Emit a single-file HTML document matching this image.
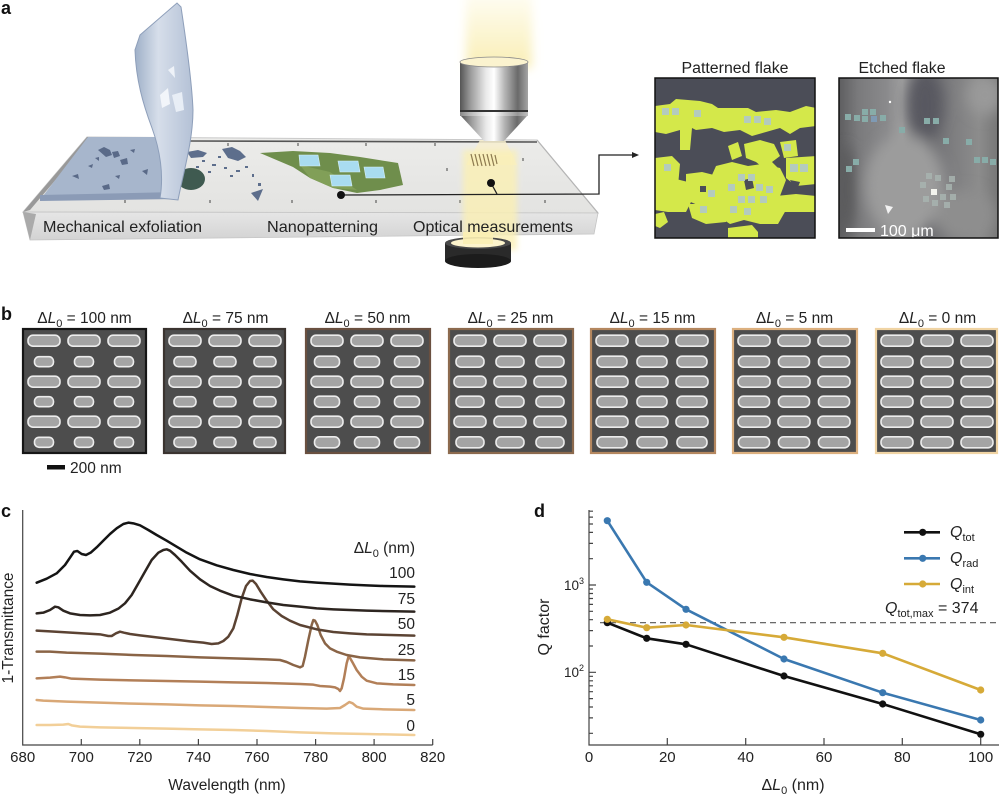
<!DOCTYPE html>
<html><head><meta charset="utf-8"><style>
html,body{margin:0;padding:0;background:#fff;}
svg{display:block;font-family:"Liberation Sans",Arial,sans-serif;}
.pill rect{fill:#a4a4a4;stroke:#ececec;stroke-width:1.6;}
</style></head><body>
<svg width="1000" height="795" viewBox="0 0 1000 795" xmlns="http://www.w3.org/2000/svg">
<defs>
<filter id="b3" x="-50%" y="-50%" width="200%" height="200%"><feGaussianBlur stdDeviation="3"/></filter>
<filter id="b5" x="-50%" y="-50%" width="200%" height="200%"><feGaussianBlur stdDeviation="5"/></filter>
<filter id="b8" x="-30%" y="-30%" width="160%" height="160%"><feGaussianBlur stdDeviation="7"/></filter>
<linearGradient id="chrome" x1="0" y1="0" x2="1" y2="0">
<stop offset="0" stop-color="#555"/><stop offset="0.15" stop-color="#999"/><stop offset="0.38" stop-color="#e9e9e9"/><stop offset="0.5" stop-color="#fff"/><stop offset="0.65" stop-color="#b8b8b8"/><stop offset="0.85" stop-color="#6a6a6a"/><stop offset="1" stop-color="#a5a5a5"/>
</linearGradient>
<linearGradient id="beam" x1="0" y1="0" x2="0" y2="1"><stop offset="0" stop-color="#fffef6"/><stop offset="1" stop-color="#f9eeb5"/></linearGradient>
<linearGradient id="top" x1="0" y1="0" x2="0" y2="1"><stop offset="0" stop-color="#ececea"/><stop offset="1" stop-color="#e3e3e1"/></linearGradient>
<linearGradient id="front" x1="0" y1="0" x2="0" y2="1"><stop offset="0" stop-color="#e6e6e6"/><stop offset="1" stop-color="#d3d3d3"/></linearGradient>
<linearGradient id="sheet" x1="0" y1="0" x2="1" y2="0"><stop offset="0" stop-color="#9fb0c8"/><stop offset="0.4" stop-color="#d6deea"/><stop offset="1" stop-color="#b4c1d6"/></linearGradient>
<linearGradient id="etch" x1="0" y1="0" x2="1" y2="0">
<stop offset="0" stop-color="#5e5e60"/><stop offset="0.12" stop-color="#7a7a7c"/><stop offset="0.3" stop-color="#8a8a8c"/><stop offset="0.4" stop-color="#a0a0a0"/><stop offset="0.55" stop-color="#6a6a6e"/><stop offset="0.72" stop-color="#7e7e80"/><stop offset="0.88" stop-color="#8c8c8c"/><stop offset="1" stop-color="#777"/>
</linearGradient>
<clipPath id="ce"><rect x="839" y="78" width="159" height="160"/></clipPath>
<clipPath id="cp"><rect x="655" y="78" width="160" height="160"/></clipPath>
<g id="rL" class="pill"><rect x="5" y="-5.5" width="32" height="11" rx="5"/><rect x="45" y="-5.5" width="32" height="11" rx="5"/><rect x="85" y="-5.5" width="32" height="11" rx="5"/></g>
<g id="r19" class="pill"><rect x="11.5" y="-5" width="19" height="10" rx="4.5"/><rect x="51.5" y="-5" width="19" height="10" rx="4.5"/><rect x="91.5" y="-5" width="19" height="10" rx="4.5"/></g>
<g id="r22" class="pill"><rect x="10" y="-5" width="22" height="10" rx="4.5"/><rect x="50" y="-5" width="22" height="10" rx="4.5"/><rect x="90" y="-5" width="22" height="10" rx="4.5"/></g>
<g id="r25" class="pill"><rect x="8.5" y="-5.5" width="25" height="11" rx="5"/><rect x="48.5" y="-5.5" width="25" height="11" rx="5"/><rect x="88.5" y="-5.5" width="25" height="11" rx="5"/></g>
<g id="r28" class="pill"><rect x="7" y="-5.5" width="28" height="11" rx="5"/><rect x="47" y="-5.5" width="28" height="11" rx="5"/><rect x="87" y="-5.5" width="28" height="11" rx="5"/></g>
<g id="r30" class="pill"><rect x="6" y="-5.5" width="30" height="11" rx="5"/><rect x="46" y="-5.5" width="30" height="11" rx="5"/><rect x="86" y="-5.5" width="30" height="11" rx="5"/></g>
<g id="r31" class="pill"><rect x="5.5" y="-5.5" width="31" height="11" rx="5"/><rect x="45.5" y="-5.5" width="31" height="11" rx="5"/><rect x="85.5" y="-5.5" width="31" height="11" rx="5"/></g>
</defs>

<!-- ================= PANEL A ================= -->
<text x="1" y="14" font-size="18" font-weight="bold" fill="#111">a</text>

<rect x="466" y="-10" width="66" height="78" fill="url(#beam)" filter="url(#b5)"/>

<polygon points="87,137 537,140 598,213 23,212" fill="url(#top)" stroke="#c9c9c9" stroke-width="1"/>
<line x1="190" y1="141" x2="537" y2="142" stroke="#555" stroke-width="1.6"/>
<polygon points="87,137 92,137 30,210 23,212" fill="#999"/>
<polygon points="23,212 598,213 594,234 30,240" fill="url(#front)" stroke="#c4c4c4" stroke-width="0.8"/>
<polygon points="23,212 30,240 36,214" fill="#aaa"/>
<line x1="537" y1="140" x2="598" y2="213" stroke="#b5b5b5" stroke-width="1.2"/>

<g stroke="#444" stroke-width="1">
<line x1="228" y1="143" x2="228" y2="146"/><line x1="298" y1="143" x2="298" y2="146"/><line x1="366" y1="143" x2="366" y2="146"/><line x1="435" y1="143" x2="435" y2="146"/>
<line x1="447" y1="168" x2="447" y2="171"/><line x1="523" y1="158" x2="523" y2="161"/>
<line x1="125" y1="200" x2="125" y2="203"/><line x1="210" y1="200" x2="210" y2="203"/><line x1="292" y1="200" x2="292" y2="203"/><line x1="376" y1="200" x2="376" y2="203"/><line x1="460" y1="200" x2="460" y2="203"/><line x1="545" y1="200" x2="545" y2="203"/>
</g>

<g fill="#5d6e8c">
<polygon points="187,152 198,150 207,153 203,157 191,158"/>
<polygon points="222,149 232,147 240,151 246,157 238,161 228,158"/>
<polygon points="251,193 263,189 258,201"/>
<rect x="202" y="160" width="3" height="2"/><rect x="212" y="164" width="4" height="2"/><rect x="224" y="167" width="3" height="2"/><rect x="236" y="170" width="4" height="2"/><rect x="245" y="166" width="3" height="2"/><rect x="196" y="166" width="3" height="2"/><rect x="230" y="175" width="3" height="2"/><rect x="252" y="174" width="2" height="3"/><rect x="258" y="183" width="3" height="3"/><rect x="218" y="156" width="3" height="2"/><rect x="208" y="171" width="3" height="2"/>
</g>

<ellipse cx="191" cy="179" rx="14" ry="11" fill="#3f5a50"/>

<polygon points="88,137 163,137 177,197 40,200" fill="#a7b6cc"/>
<polygon points="40,195 177,192 177,199 40,201" fill="#8b9bb6"/>
<g fill="#5a6a88">
<polygon points="98,150 104,147 110,150 112,155 106,157"/><polygon points="112,152 118,151 120,156 114,158"/><polygon points="120,160 127,158 128,164 122,165"/><polygon points="72,176 78,174 79,179"/><polygon points="102,186 109,184 110,189 104,190"/><polygon points="142,171 148,169 147,175"/><polygon points="130,150 135,149 134,153"/><polygon points="88,166 93,164 92,168"/><polygon points="115,176 120,175 119,179"/><polygon points="95,158 99,157 99,161"/>
</g>

<path d="M140,35 L177,3 L181,7 C186,40 192,85 193,110 C193,140 184,170 178,200 L160,198 C164,175 160,150 152,128 C143,104 136,80 135,50 Z" fill="url(#sheet)" stroke="#8e9fba" stroke-width="1"/>
<polygon points="160,95 168,88 170,104 162,108" fill="#f2f5fa"/>
<polygon points="168,70 174,66 175,78" fill="#eef2f8"/>
<polygon points="172,95 182,92 184,110 176,112" fill="#e8eef6"/>

<polygon points="260,153 293,151 330,153 360,157 398,163 403,185 380,190 357,193 333,188 310,178 293,167" fill="#6f8e4c"/>
<polygon points="300,165 330,172 357,190 333,188 310,178" fill="#819f58"/>
<g fill="#a9dcf0" stroke="#d8f0fa" stroke-width="0.6">
<polygon points="299,155 318,155 320,166 300,166"/>
<polygon points="338,161 358,161 360,172 340,172"/>
<polygon points="364,167 383,167 385,178 366,178"/>
<polygon points="330,175 350,175 352,186 332,186"/>
</g>

<polygon points="480,140 505,140 517,165 466,165" fill="#f7efcf" opacity="0.85"/>
<rect x="463" y="150" width="54" height="100" fill="#fbf0b4" opacity="0.8" filter="url(#b3)"/>
<g stroke="#8d7a50" stroke-width="1.2">
<line x1="471" y1="154" x2="474" y2="166"/><line x1="475" y1="154" x2="478" y2="166"/><line x1="479" y1="154" x2="482" y2="166"/><line x1="483" y1="154" x2="486" y2="166"/><line x1="487" y1="154" x2="490" y2="166"/><line x1="491" y1="154" x2="494" y2="166"/><line x1="495" y1="155" x2="497" y2="164"/>
</g>

<rect x="460" y="62" width="68" height="48" fill="url(#chrome)"/>
<rect x="460" y="108" width="68" height="8" fill="url(#chrome)" opacity="0.7"/>
<rect x="460" y="110" width="68" height="2" fill="#333"/>
<ellipse cx="494" cy="62" rx="34" ry="5" fill="#fbf3cf" stroke="#888" stroke-width="0.8"/>
<polygon points="461,116 527,116 504,141 484,141" fill="url(#chrome)"/>

<rect x="445" y="243" width="66" height="18" fill="#2a2a2a"/>
<ellipse cx="478" cy="261" rx="33" ry="7" fill="#1c1c1c"/>
<ellipse cx="478" cy="243" rx="33" ry="6" fill="#4a4a4a"/>
<ellipse cx="478" cy="243" rx="27" ry="4.5" fill="#fdf4cc"/>
<rect x="463" y="232" width="30" height="12" fill="#fbf0b4" opacity="0.9"/>

<g font-size="16" fill="#222">
<text x="43" y="232" textLength="159" lengthAdjust="spacingAndGlyphs">Mechanical exfoliation</text>
<text x="267" y="232" textLength="111" lengthAdjust="spacingAndGlyphs">Nanopatterning</text>
<text x="413" y="232" textLength="160" lengthAdjust="spacingAndGlyphs">Optical measurements</text>
</g>

<g stroke="#222" stroke-width="1.3" fill="none">
<path d="M341,195 L599,194 L599,155 L634,155"/>
<path d="M491,183 L497,194"/>
</g>
<polygon points="639,155 632,152 632,158" fill="#222"/>
<circle cx="341" cy="195" r="4" fill="#111"/>
<circle cx="491" cy="183" r="4" fill="#111"/>

<g font-size="15.5" fill="#222" text-anchor="middle">
<text x="735" y="73" textLength="107" lengthAdjust="spacingAndGlyphs">Patterned flake</text>
<text x="902" y="73" textLength="87" lengthAdjust="spacingAndGlyphs">Etched flake</text>
</g>

<!-- patterned flake -->
<rect x="655" y="78" width="160" height="160" fill="#4b4d57"/>
<g clip-path="url(#cp)">
<g fill="#d4e84a">
<polygon points="655,106 670,104 676,99 700,101 712,104 718,108 748,108 756,112 776,110 790,112 806,106 816,108 816,126 800,128 790,134 780,128 766,132 752,136 740,130 724,132 712,128 696,130 692,128 690,150 680,150 680,130 666,134 655,132"/>
<polygon points="655,158 672,156 680,164 678,186 668,192 655,190"/>
<polygon points="728,146 738,142 742,156 732,160"/>
<polygon points="744,144 760,140 774,144 780,156 772,162 778,168 766,170 756,162 746,158"/>
<polygon points="780,142 796,140 798,156 784,158"/>
<polygon points="716,166 732,162 748,166 762,164 780,168 786,180 780,196 786,210 778,224 760,224 744,220 730,224 718,216 712,198 708,184"/>
<polygon points="686,174 702,172 718,176 722,196 716,206 700,206 686,200"/>
<polygon points="655,180 672,178 688,182 692,200 686,212 668,212 655,210"/>
<polygon points="786,158 816,156 816,184 796,186 786,178"/>
<polygon points="776,196 796,194 816,196 816,212 796,212 776,212"/>
<polygon points="728,228 752,225 758,232 758,240 728,240"/>
<polygon points="688,204 710,204 728,210 726,222 706,224 692,218"/>
<polygon points="655,214 664,212 668,222 660,228 655,226"/>
</g>
<g fill="#4b4d57">
<polygon points="744,180 752,178 754,188 746,190"/>
<polygon points="700,186 706,186 706,192 700,192"/>
<polygon points="790,180 800,182 796,192"/>
</g>
<g fill="#b4cbbd">
<rect x="662" y="108" width="7" height="7"/><rect x="672" y="108" width="7" height="7"/><rect x="694" y="110" width="7" height="7"/>
<rect x="744" y="116" width="7" height="7"/><rect x="754" y="116" width="7" height="7"/><rect x="764" y="118" width="7" height="7"/>
<rect x="664" y="164" width="7" height="7"/><rect x="790" y="164" width="8" height="8"/><rect x="800" y="164" width="8" height="8"/><rect x="784" y="144" width="7" height="7"/>
<rect x="738" y="174" width="7" height="7"/><rect x="748" y="174" width="7" height="7"/><rect x="728" y="184" width="7" height="7"/><rect x="756" y="184" width="7" height="7"/><rect x="766" y="186" width="7" height="7"/>
<rect x="738" y="196" width="7" height="7"/><rect x="748" y="196" width="7" height="7"/><rect x="760" y="196" width="7" height="7"/><rect x="730" y="206" width="7" height="7"/><rect x="744" y="208" width="7" height="7"/><rect x="700" y="206" width="7" height="7"/><rect x="708" y="190" width="7" height="7"/>
</g>
</g>
<rect x="655" y="78" width="160" height="160" fill="none" stroke="#111" stroke-width="1.5"/>

<!-- etched flake -->
<g clip-path="url(#ce)">
<rect x="839" y="78" width="159" height="160" fill="url(#etch)"/>
<g filter="url(#b8)">
<ellipse cx="925" cy="105" rx="18" ry="35" fill="#585860"/>
<ellipse cx="905" cy="185" rx="40" ry="50" fill="#9c9c9c"/>
<ellipse cx="985" cy="95" rx="18" ry="20" fill="#9a9a9a"/>
<ellipse cx="845" cy="190" rx="10" ry="45" fill="#5a5a5c"/>
<ellipse cx="965" cy="215" rx="30" ry="25" fill="#8e8e8e"/>
</g>
</g>
<g fill="#88aca8">
<rect x="845" y="114" width="6" height="6"/><rect x="854" y="115" width="6" height="6"/><rect x="862" y="109" width="6" height="6"/><rect x="862" y="116" width="6" height="6"/><rect x="870" y="109" width="6" height="6"/><rect x="871" y="116" width="6" height="6" fill="#7f9ab4"/><rect x="880" y="115" width="6" height="6"/>
<rect x="899" y="127" width="6" height="6"/><rect x="924" y="118" width="6" height="6"/><rect x="933" y="118" width="6" height="6"/><rect x="943" y="138" width="6" height="6"/><rect x="966" y="139" width="6" height="6"/>
<rect x="974" y="157" width="6" height="6"/><rect x="982" y="157" width="6" height="6"/><rect x="990" y="159" width="6" height="6"/><rect x="853" y="159" width="6" height="6"/><rect x="846" y="166" width="6" height="6"/>
</g>
<g fill="#a8b4b0" opacity="0.85">
<rect x="926" y="173" width="6" height="6"/><rect x="935" y="175" width="6" height="6"/><rect x="949" y="176" width="6" height="6"/><rect x="920" y="182" width="6" height="6"/><rect x="946" y="184" width="6" height="6"/>
<rect x="940" y="194" width="6" height="6"/><rect x="950" y="194" width="6" height="6"/><rect x="923" y="196" width="6" height="6"/><rect x="932" y="200" width="6" height="6"/><rect x="944" y="202" width="6" height="6"/>
</g>
<rect x="931" y="189" width="6" height="6" fill="#f4f4ee"/>
<polygon points="885,205 893,207 888,214" fill="#f2f2f2"/>
<circle cx="890" cy="102" r="1.2" fill="#fff"/>
<rect x="846" y="228" width="29" height="4" fill="#fff"/>
<text x="880" y="236" font-size="16" fill="#fff">100 μm</text>
<rect x="839" y="78" width="159" height="160" fill="none" stroke="#111" stroke-width="1.5"/>

<!-- ================= PANEL B ================= -->
<text x="1" y="320" font-size="18" font-weight="bold" fill="#111">b</text>
<g font-size="15.5" fill="#222" text-anchor="middle">
<text x="84.5" y="323">Δ<tspan font-style="italic">L</tspan><tspan dy="4" font-size="11">0</tspan><tspan dy="-4"> = 100 nm</tspan></text>
<text x="225.5" y="323">Δ<tspan font-style="italic">L</tspan><tspan dy="4" font-size="11">0</tspan><tspan dy="-4"> = 75 nm</tspan></text>
<text x="367.5" y="323">Δ<tspan font-style="italic">L</tspan><tspan dy="4" font-size="11">0</tspan><tspan dy="-4"> = 50 nm</tspan></text>
<text x="510.5" y="323">Δ<tspan font-style="italic">L</tspan><tspan dy="4" font-size="11">0</tspan><tspan dy="-4"> = 25 nm</tspan></text>
<text x="652.5" y="323">Δ<tspan font-style="italic">L</tspan><tspan dy="4" font-size="11">0</tspan><tspan dy="-4"> = 15 nm</tspan></text>
<text x="794.5" y="323">Δ<tspan font-style="italic">L</tspan><tspan dy="4" font-size="11">0</tspan><tspan dy="-4"> = 5 nm</tspan></text>
<text x="937.5" y="323">Δ<tspan font-style="italic">L</tspan><tspan dy="4" font-size="11">0</tspan><tspan dy="-4"> = 0 nm</tspan></text>
</g>

<g transform="translate(23,329)"><rect x="0" y="0" width="123" height="124" fill="#4d4d4d" stroke="#161616" stroke-width="2.2"/>
<use href="#rL" y="11.7"/><use href="#r19" y="32.7"/><use href="#rL" y="52.7"/><use href="#r19" y="72.7"/><use href="#rL" y="92.7"/><use href="#r19" y="113.3"/></g>
<g transform="translate(164,329)"><rect x="0" y="0" width="121" height="124" fill="#4d4d4d" stroke="#3b3430" stroke-width="2.2"/>
<use href="#rL" y="11.7"/><use href="#r22" y="32.7"/><use href="#rL" y="52.7"/><use href="#r22" y="72.7"/><use href="#rL" y="92.7"/><use href="#r22" y="113.3"/></g>
<g transform="translate(306,329)"><rect x="0" y="0" width="124" height="124" fill="#4d4d4d" stroke="#6a5040" stroke-width="2.2"/>
<use href="#rL" y="11.7"/><use href="#r25" y="32.7"/><use href="#rL" y="52.7"/><use href="#r25" y="72.7"/><use href="#rL" y="92.7"/><use href="#r25" y="113.3"/></g>
<g transform="translate(449,329)"><rect x="0" y="0" width="124" height="124" fill="#4d4d4d" stroke="#8c6a4e" stroke-width="2.2"/>
<use href="#rL" y="11.7"/><use href="#r28" y="32.7"/><use href="#rL" y="52.7"/><use href="#r28" y="72.7"/><use href="#rL" y="92.7"/><use href="#r28" y="113.3"/></g>
<g transform="translate(591,329)"><rect x="0" y="0" width="124" height="124" fill="#4d4d4d" stroke="#b4875f" stroke-width="2.2"/>
<use href="#rL" y="11.7"/><use href="#r30" y="32.7"/><use href="#rL" y="52.7"/><use href="#r30" y="72.7"/><use href="#rL" y="92.7"/><use href="#r30" y="113.3"/></g>
<g transform="translate(733,329)"><rect x="0" y="0" width="124" height="124" fill="#4d4d4d" stroke="#dcb07f" stroke-width="2.2"/>
<use href="#rL" y="11.7"/><use href="#r31" y="32.7"/><use href="#rL" y="52.7"/><use href="#r31" y="72.7"/><use href="#rL" y="92.7"/><use href="#r31" y="113.3"/></g>
<g transform="translate(876,329)"><rect x="0" y="0" width="121" height="124" fill="#4d4d4d" stroke="#f0d4a4" stroke-width="2.2"/>
<use href="#rL" y="11.7"/><use href="#rL" y="32.7"/><use href="#rL" y="52.7"/><use href="#rL" y="72.7"/><use href="#rL" y="92.7"/><use href="#rL" y="113.3"/></g>

<rect x="47" y="465" width="18" height="4.5" fill="#111"/>
<text x="70" y="473" font-size="15.5" fill="#222">200 nm</text>

<!-- ================= PANEL C ================= -->
<text x="1" y="517" font-size="18" font-weight="bold" fill="#111">c</text>
<g stroke="#444" stroke-width="1.2" fill="none">
<path d="M22.7,510 L22.7,745 L432.7,745"/>
<path d="M81.3,745 V739 M139.8,745 V739 M198.4,745 V739 M257,745 V739 M315.6,745 V739 M374.1,745 V739 M432.7,745 V739"/>
</g>
<g font-size="15" fill="#222" text-anchor="middle">
<text x="22.7" y="762">680</text><text x="81.3" y="762">700</text><text x="139.8" y="762">720</text><text x="198.4" y="762">740</text><text x="257" y="762">760</text><text x="315.6" y="762">780</text><text x="374.1" y="762">800</text><text x="432.7" y="762">820</text>
<text x="227" y="790" font-size="15.5">Wavelength (nm)</text>
</g>
<text transform="translate(13,628) rotate(-90)" font-size="15.5" fill="#222" text-anchor="middle" textLength="111" lengthAdjust="spacingAndGlyphs">1-Transmittance</text>

<g transform="translate(0,500) scale(0.333333)" fill="none" stroke-width="7.5" stroke-linejoin="round" stroke-linecap="round">
<polyline stroke="#f2cf98" points="110,675 150,675 190,674 205,672 215,676 240,680 300,682 400,684 500,686 600,688 700,690 800,693 900,697 1000,700 1100,702 1243,705"/>
<polyline stroke="#d9a877" points="110,600 130,602 200,605 300,608 400,611 500,613 600,616 700,618 800,621 900,624 980,626 1020,624 1035,615 1048,606 1058,610 1070,620 1090,626 1150,628 1243,630"/>
<polyline stroke="#b27f58" points="110,535 150,533 180,530 195,532 215,536 300,539 400,541 500,543 600,545 700,547 800,549 900,552 940,554 960,558 990,560 1005,562 1015,567 1020,573 1025,565 1032,535 1040,490 1045,472 1050,474 1058,488 1070,510 1085,530 1100,542 1130,550 1180,553 1243,555"/>
<polyline stroke="#8a6446" points="110,455 150,455 200,458 300,461 400,465 500,468 600,472 700,475 800,478 840,480 860,486 880,495 900,502 908,498 915,470 925,420 935,375 940,360 945,362 952,375 962,405 975,430 990,445 1010,455 1040,465 1080,472 1150,478 1243,481"/>
<polyline stroke="#5b4333" points="110,392 150,394 200,397 250,400 300,403 325,408 335,408 348,400 360,395 372,398 390,402 420,406 470,412 520,418 570,424 610,428 635,432 655,430 670,423 685,410 700,385 712,345 725,295 738,258 750,243 758,242 768,252 782,275 800,302 820,328 845,348 870,362 900,375 950,388 1000,396 1050,400 1100,403 1243,407"/>
<polyline stroke="#2d2520" points="110,340 130,338 150,330 165,320 175,322 190,332 210,340 240,345 270,346 300,345 330,338 355,326 375,310 395,285 415,250 435,215 455,180 475,158 490,150 500,148 510,152 525,165 545,185 570,212 600,238 630,258 660,272 700,287 750,298 800,307 850,315 900,320 950,325 1000,328 1050,330 1100,332 1243,335"/>
<polyline stroke="#141414" points="110,248 140,236 170,220 195,195 212,170 222,155 232,153 245,162 258,165 272,158 290,142 310,122 330,102 350,85 370,72 385,68 400,70 420,76 445,90 470,105 500,122 530,140 560,158 600,178 650,196 700,210 750,222 800,231 850,238 900,244 950,248 1000,251 1050,254 1100,256 1150,258 1243,260"/>
</g>
<g font-size="15.5" fill="#222" text-anchor="end">
<text x="415" y="553">Δ<tspan font-style="italic">L</tspan><tspan dy="4" font-size="11">0</tspan><tspan dy="-4"> (nm)</tspan></text>
<text x="415" y="578">100</text>
<text x="415" y="604">75</text>
<text x="415" y="629">50</text>
<text x="415" y="655">25</text>
<text x="415" y="680">15</text>
<text x="415" y="705">5</text>
<text x="415" y="731">0</text>
</g>

<!-- ================= PANEL D ================= -->
<text x="534" y="517" font-size="18" font-weight="bold" fill="#111">d</text>
<g stroke="#444" stroke-width="1.2" fill="none">
<path d="M589,510 L589,745 L999,745"/>
<path d="M667.3,745 V738 M745.7,745 V738 M824,745 V738 M902.3,745 V738 M980.7,745 V738"/>
<path d="M589,585 H596 M589,672.3 H596"/>
<path d="M589,733.3 H593 M589,717.9 H593 M589,707 H593 M589,698.6 H593 M589,691.7 H593 M589,685.8 H593 M589,680.8 H593 M589,676.3 H593 M589,646 H593 M589,630.6 H593 M589,619.7 H593 M589,611.3 H593 M589,604.4 H593 M589,598.5 H593 M589,593.5 H593 M589,589 H593 M589,558.7 H593 M589,543.4 H593 M589,532.4 H593 M589,524 H593 M589,517.1 H593 M589,511.2 H593"/>
</g>
<g font-size="15" fill="#222" text-anchor="middle">
<text x="589" y="762">0</text><text x="667.3" y="762">20</text><text x="745.7" y="762">40</text><text x="824" y="762">60</text><text x="902.3" y="762">80</text><text x="980.7" y="762">100</text>
</g>
<g font-size="13.5" fill="#222" text-anchor="end">
<text x="584" y="590">10<tspan dy="-6" font-size="9">3</tspan></text>
<text x="584" y="677">10<tspan dy="-6" font-size="9">2</tspan></text>
</g>
<text transform="translate(549,627) rotate(-90)" font-size="16" fill="#222" text-anchor="middle">Q factor</text>
<text x="793" y="790" font-size="16" fill="#222" text-anchor="middle">Δ<tspan font-style="italic">L</tspan><tspan dy="4" font-size="11">0</tspan><tspan dy="-4"> (nm)</tspan></text>

<line x1="600" y1="622.7" x2="1000" y2="622.7" stroke="#555" stroke-width="1.2" stroke-dasharray="6,4"/>

<g fill="none" stroke-width="2.6" stroke-linejoin="round">
<polyline stroke="#111" points="607.3,622.7 646.7,638.3 686,644.3 784,676 882.7,704 980.7,734.3"/>
<polyline stroke="#3a78b0" points="607.3,520.7 646.7,582.3 686,609.3 784,659 882.7,692.7 980.7,720"/>
<polyline stroke="#d6aa38" points="607.3,619.3 646.7,627.7 686,625 784,637.3 882.7,653.3 980.7,690"/>
</g>
<g fill="#111"><circle cx="607.3" cy="622.7" r="3.6"/><circle cx="646.7" cy="638.3" r="3.6"/><circle cx="686" cy="644.3" r="3.6"/><circle cx="784" cy="676" r="3.6"/><circle cx="882.7" cy="704" r="3.6"/><circle cx="980.7" cy="734.3" r="3.6"/></g>
<g fill="#3a78b0"><circle cx="607.3" cy="520.7" r="3.6"/><circle cx="646.7" cy="582.3" r="3.6"/><circle cx="686" cy="609.3" r="3.6"/><circle cx="784" cy="659" r="3.6"/><circle cx="882.7" cy="692.7" r="3.6"/><circle cx="980.7" cy="720" r="3.6"/></g>
<g fill="#d6aa38"><circle cx="607.3" cy="619.3" r="3.6"/><circle cx="646.7" cy="627.7" r="3.6"/><circle cx="686" cy="625" r="3.6"/><circle cx="784" cy="637.3" r="3.6"/><circle cx="882.7" cy="653.3" r="3.6"/><circle cx="980.7" cy="690" r="3.6"/></g>

<g stroke-width="2.6">
<line x1="904" y1="532.3" x2="940" y2="532.3" stroke="#111"/>
<line x1="904" y1="558.3" x2="940" y2="558.3" stroke="#3a78b0"/>
<line x1="904" y1="584" x2="940" y2="584" stroke="#d6aa38"/>
</g>
<circle cx="922.7" cy="532.3" r="3.6" fill="#111"/>
<circle cx="922.7" cy="558.3" r="3.6" fill="#3a78b0"/>
<circle cx="922.7" cy="584" r="3.6" fill="#d6aa38"/>
<g font-size="16" fill="#222">
<text x="950" y="537"><tspan font-style="italic">Q</tspan><tspan dy="4" font-size="11">tot</tspan></text>
<text x="950" y="563"><tspan font-style="italic">Q</tspan><tspan dy="4" font-size="11">rad</tspan></text>
<text x="950" y="589"><tspan font-style="italic">Q</tspan><tspan dy="4" font-size="11">int</tspan></text>
<text x="885" y="613"><tspan font-style="italic">Q</tspan><tspan dy="4" font-size="11">tot,max</tspan><tspan dy="-4"> = 374</tspan></text>
</g>
</svg>
</body></html>
